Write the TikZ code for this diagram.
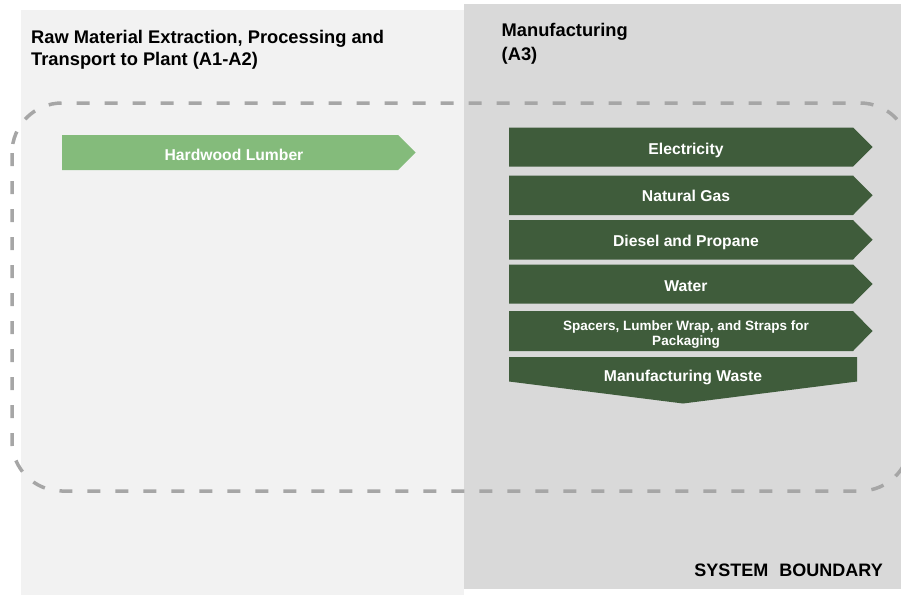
\documentclass[tikz,border=0pt]{standalone}
\usepackage{fontspec}
\setmainfont{Liberation Sans}
\definecolor{stagelight}{HTML}{F2F2F2}
\definecolor{stagedark}{HTML}{D9D9D9}
\definecolor{dashgrey}{HTML}{A6A6A6}
\definecolor{leafgreen}{HTML}{84BB7B}
\definecolor{forestgreen}{HTML}{3F5C3B}
% flow bar pointing right: style, left x, body end x, tip x, top y, bottom y
\newcommand\flowbar[6]{%
  \fill[#1] (#2,#5) -- (#3,#5) -- (#4,{(#5+#6)/2}) -- (#3,#6) -- (#2,#6) -- cycle;}
\begin{document}
\begin{tikzpicture}[x=1pt,y=-1pt,
  boundary/.style={draw=dashgrey, line width=3.5pt, dash pattern=on 13pt off 15pt,
    rounded corners=50pt},
  inflow/.style={fill=leafgreen},
  mfgflow/.style={fill=forestgreen},
  flowlabel/.style={text=white, font=\fontsize{15.7}{18}\selectfont\bfseries,
    inner sep=0pt, anchor=base},
  smalllabel/.style={text=white, font=\fontsize{13.5}{15}\selectfont\bfseries,
    inner sep=0pt, anchor=base},
  stagetitle/.style={text=black, font=\fontsize{18.3}{22}\selectfont\bfseries,
    inner sep=0pt, anchor=base west},
  boundarytitle/.style={text=black, font=\fontsize{18}{22}\selectfont\bfseries,
    inner sep=0pt, anchor=base east}]
\useasboundingbox (0,0) rectangle (901,595);
\clip (0,0) rectangle (901,595);

% life-cycle stage panels
\fill[stagelight] (21,10) rectangle (464,595);
\fill[stagedark] (464,4) rectangle (901,589);

% system boundary
\draw[boundary] (12,103) rectangle (910,491);

% stage titles
\node[stagetitle] (a12l1) at (31,43.3) {Raw Material Extraction, Processing and};
\node[stagetitle] (a12l2) at (31,65.7) {Transport to Plant (A1-A2)};
\node[stagetitle] (a3l1) at (501.5,36) {Manufacturing};
\node[stagetitle] (a3l2) at (501.5,60) {(A3)};

% raw material input
\flowbar{inflow}{62}{398}{415.5}{135}{170}
\node[flowlabel] (lumber) at (234,160) {Hardwood Lumber};

% manufacturing inputs
\flowbar{mfgflow}{509}{853}{872.5}{127.5}{166.5}
\node[flowlabel] (elec) at (686,154) {Electricity};
\flowbar{mfgflow}{509}{853}{872.5}{175.5}{215}
\node[flowlabel] (gas) at (686,201.6) {Natural Gas};
\flowbar{mfgflow}{509}{853}{872.5}{220}{259.5}
\node[flowlabel] (diesel) at (686,246.5) {Diesel and Propane};
\flowbar{mfgflow}{509}{853}{872.5}{264.5}{303.5}
\node[flowlabel] (water) at (686,291) {Water};
\flowbar{mfgflow}{509}{853}{872.5}{311}{351}
\node[smalllabel] (pack1) at (686,330) {Spacers, Lumber Wrap, and Straps for};
\node[smalllabel] (pack2) at (686,345) {Packaging};

% manufacturing output
\fill[mfgflow] (509,357) -- (857,357) -- (857,381.5) -- (683,403.5) -- (509,381.5) -- cycle;
\node[flowlabel] (waste) at (683,381.5) {Manufacturing Waste};

\node[boundarytitle] (sysb) at (883,576) {SYSTEM\hspace{11pt}BOUNDARY};
\end{tikzpicture}
\end{document}
